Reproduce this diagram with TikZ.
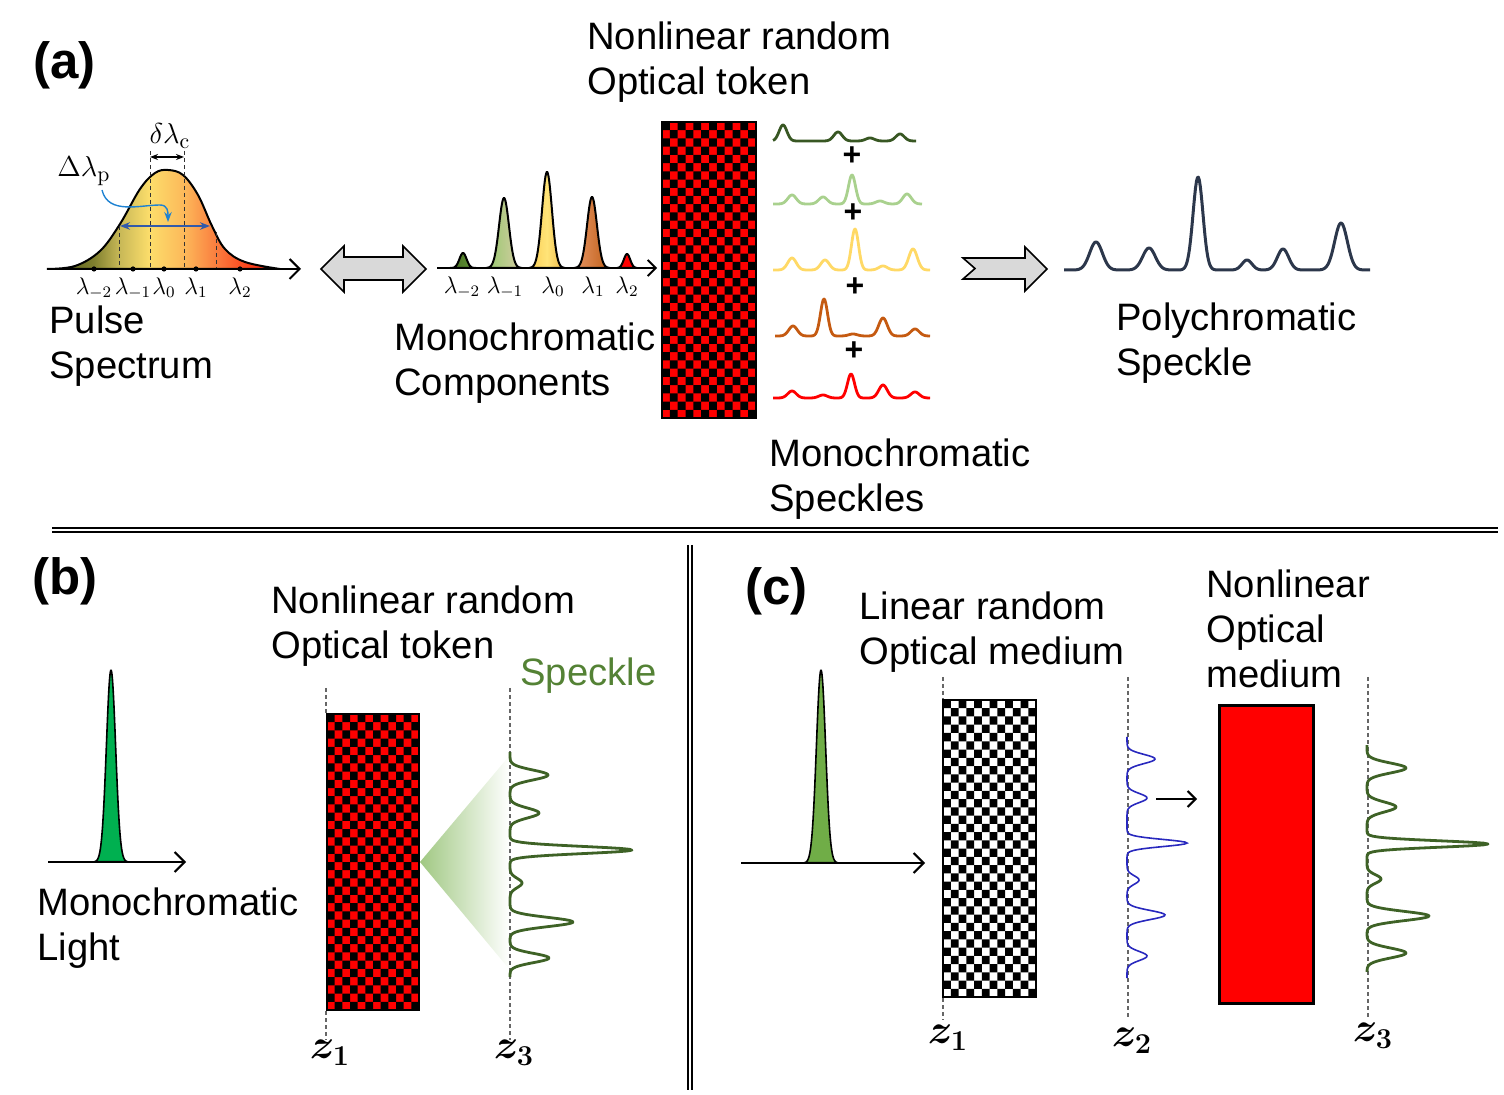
\documentclass[tikz,border=0pt]{standalone}
\usepackage{fontspec}
\newfontfamily\arial{Liberation Sans}
\usetikzlibrary{arrows.meta}
\definecolor{dgreen}{RGB}{56,87,35}
\definecolor{lgreen}{RGB}{169,209,142}
\definecolor{myellow}{RGB}{255,217,102}
\definecolor{morange}{RGB}{197,90,17}
\definecolor{sgreen}{RGB}{84,130,53}
\definecolor{cgreenline}{RGB}{62,98,38}
\definecolor{slate}{RGB}{44,55,75}
\definecolor{bgreen}{RGB}{0,176,80}
\definecolor{cgreen}{RGB}{112,173,71}
\definecolor{zblue}{RGB}{40,40,190}
\definecolor{larrow}{RGB}{217,217,217}
\definecolor{cone}{RGB}{160,200,130}
\definecolor{blueA}{RGB}{30,130,210}
\definecolor{blueB}{RGB}{50,90,170}
\definecolor{pA1}{RGB}{70,110,35}\definecolor{pA2}{RGB}{100,150,55}
\definecolor{pB1}{RGB}{150,200,110}\definecolor{pB2}{RGB}{215,205,165}
\definecolor{pC1}{RGB}{250,205,85}\definecolor{pC2}{RGB}{235,180,70}\definecolor{pC3}{RGB}{255,228,120}
\definecolor{pD1}{RGB}{232,150,100}\definecolor{pD2}{RGB}{190,95,25}
\pgfdeclarehorizontalshading{pulseshade}{100bp}{rgb(0bp)=(0.28,0.32,0.08); rgb(25bp)=(0.28,0.32,0.08); rgb(35bp)=(0.5,0.5,0.18); rgb(40.5bp)=(0.78,0.72,0.34); rgb(47bp)=(0.99,0.87,0.42); rgb(54.5bp)=(0.99,0.72,0.35); rgb(61bp)=(0.98,0.5,0.25); rgb(68.5bp)=(0.98,0.25,0.1); rgb(75bp)=(1,0.1,0.05); rgb(100bp)=(1,0.1,0.05)}
\newcommand\tokenpat[6]{%
  \fill[#5] (#1,#2) rectangle ++(#3,#4);
  \foreach \ii in {0,...,11}{%
    \pgfmathtruncatemacro\off{mod(\ii,2)}%
    \fill[#6] \foreach \jj in {0,...,17}{ ({#1+\ii*#3/12},{#2+(2*\jj+\off)*#4/36}) rectangle ++({#3/12},{#4/36}) };
  }%
  \draw[black, line width=1.3pt] (#1,#2) rectangle ++(#3,#4);
}
\begin{document}
\begin{tikzpicture}[x=0.5pt,y=-0.5pt,
  declare function={g(\xx,\cc,\ww)=exp(-((\xx-\cc)/\ww)*((\xx-\cc)/\ww));},
  txt/.style={font=\arial\fontsize{19.1}{22.5}\selectfont, align=left, inner sep=0, anchor=north west},
  lab/.style={font=\arial\bfseries\fontsize{25.5}{30}\selectfont, inner sep=0, anchor=base west},
  lam/.style={font=\fontsize{12}{14}\selectfont, inner sep=0, anchor=north},
  zlab/.style={font=\fontsize{22}{24}\selectfont\boldmath, inner sep=0, anchor=north},
  dline/.style={gray!80!black, dash pattern=on 2pt off 1.5pt, line width=0.6pt},
  axisline/.style={line width=1.2pt, -{Straight Barb[length=5pt,width=10pt,line width=1pt]}},
  spk/.style={line width=1.4pt, line join=round},
  plus/.style={font=\arial\bfseries\fontsize{16}{16}\selectfont, inner sep=0},
]
\useasboundingbox (0,0) rectangle (1504,1095);

% ---------------- (a) ----------------
\node[lab] (la) at (33,79) {(a)};
\node[txt] (ta) at (587,21) {Nonlinear random\\Optical token};

% pulse spectrum
\shadedraw[shading=pulseshade, draw=black, line width=1pt] plot[smooth, tension=0.6] coordinates {(47,269) (75,266) (100,251) (120,224) (140,189) (155,173) (168,170) (183,175) (198,195) (212,226) (225,249) (245,262) (280,269)} -- cycle;
\draw[dline, black!80, line width=0.5pt] (119,226)--(119,269) (150,151)--(150,269) (184,151)--(184,269) (216,232)--(216,269);
\draw[line width=0.8pt, {Stealth[length=4pt]}-{Stealth[length=4pt]}] (150,157)--(184,157);
\node[font=\fontsize{15.5}{18}\selectfont, inner sep=0] (dlc) at (170,136) {$\delta\lambda_{\mathrm{c}}$};
\node[font=\fontsize{15.5}{18}\selectfont, inner sep=0] (dlp) at (84,171) {$\Delta\lambda_{\mathrm{p}}$};
\draw[blueA, line width=0.7pt, -{Stealth[length=5pt]}] (102,190) .. controls (108,215) and (140,205) .. (160,205) .. controls (168,205) and (168,212) .. (168,222);
\draw[blueB, line width=1pt, {Stealth[length=5pt]}-{Stealth[length=5pt]}] (120,226)--(210,226);
\draw[axisline] (47,269)--(301,269);
\foreach \px/\lb in {94/{-2},133/{-1},164/0,196/1,240/2}{
  \fill (\px,269) circle (2.6);
  \node[lam] at (\px,277) {$\lambda_{\lb}$};
}
\node[txt] (tpulse) at (49,305) {Pulse\\Spectrum};

% double arrow
\filldraw[fill=larrow, draw=black, line width=0.8pt] (321,269)--(344,246)--(344,257)--(403,257)--(403,246)--(426,269)--(403,292)--(403,280)--(344,280)--(344,292)--cycle;

% monochromatic components
\shadedraw[left color=pA1, right color=pA2, line width=1pt] plot[domain=450:476, samples=50] (\x,{268-15*g(\x,463,5)}) -- cycle;
\shadedraw[left color=pB1, right color=pB2, line width=1pt] plot[domain=486:522, samples=60] (\x,{268-70*g(\x,504,7)}) -- cycle;
\shadedraw[left color=pC1, right color=pC2, middle color=pC3, line width=1pt] plot[domain=529:565, samples=60] (\x,{268-96*g(\x,547,7)}) -- cycle;
\shadedraw[left color=pD1, right color=pD2, line width=1pt] plot[domain=574:610, samples=60] (\x,{268-71*g(\x,592,7)}) -- cycle;
\filldraw[fill=red, line width=1pt] plot[domain=617:637, samples=40] (\x,{268-14*g(\x,627,4.5)}) -- cycle;
\draw[line width=1pt, -{Straight Barb[length=4pt,width=8pt,line width=0.9pt]}] (437,268)--(657,268);
\foreach \px/\lb in {462/{-2},505/{-1},553/0,593/1,627/2}{
  \node[lam] at (\px,276) {$\lambda_{\lb}$};
}
\node[txt] (tcomp) at (394,322) {Monochromatic\\Components};

% token
\tokenpat{662}{122}{94}{296}{red}{black}

% monochromatic speckles
\draw[spk, dgreen] plot[domain=773:916, samples=200] (\x,{141-16*g(\x,783,5.5)-9*g(\x,838,6)-3*g(\x,870,6)-7*g(\x,900,6)});
\draw[spk, lgreen] plot[domain=773:922, samples=200] (\x,{204-9*g(\x,792,6)-7*g(\x,823,6)-29*g(\x,852,5)-3*g(\x,880,6)-10*g(\x,907,6)});
\draw[spk, myellow] plot[domain=773:930, samples=200] (\x,{270-12*g(\x,792,6)-10*g(\x,825,6)-41*g(\x,855,5)-4*g(\x,883,6)-21*g(\x,913,6)});
\draw[spk, morange] plot[domain=775:930, samples=200] (\x,{336-10*g(\x,793,6)-37*g(\x,824,5)-2*g(\x,853,6)-18*g(\x,883,6)-7*g(\x,915,6)});
\draw[spk, red] plot[domain=773:930, samples=200] (\x,{398-7*g(\x,792,6)-3*g(\x,823,6)-24*g(\x,851,5)-13*g(\x,883,6)-6*g(\x,915,6)});
\node[plus] (p1) at (852,156) {+};
\node[plus] (p2) at (853,213) {+};
\node[plus] (p3) at (855,287) {+};
\node[plus] (p4) at (854,351) {+};
\node[txt] (tspk) at (769,438) {Monochromatic\\Speckles};

% right arrow
\filldraw[fill=larrow, draw=black, line width=0.8pt] (963,258)--(1025,258)--(1025,247)--(1047,269)--(1025,291)--(1025,279)--(963,279)--(975,268.5)--cycle;

% polychromatic speckle
\draw[spk, slate, line width=1.5pt] plot[domain=1064:1370, samples=320] (\x,{270-28*g(\x,1096,9)-22*g(\x,1149,9)-93*g(\x,1198,7)-10*g(\x,1247,7)-21*g(\x,1283,8)-47*g(\x,1341,9)});
\node[txt] (tpoly) at (1116,302) {Polychromatic\\Speckle};

% separators
\draw[line width=1.3pt] (52,528)--(1498,528);
\draw[line width=1pt] (52,532.5)--(1498,532.5);
\draw[line width=0.9pt] (688,545)--(688,1090) (692,545)--(692,1090);

% ---------------- (b) ----------------
\node[lab] (lbb) at (32,595) {(b)};
\node[txt] (tb) at (271,585) {Nonlinear random\\Optical token};
\node[txt, text=sgreen] (tbs) at (520,657) {Speckle};
\filldraw[fill=bgreen, draw=black, line width=0.8pt] plot[domain=95:127, samples=60] (\x,{862-192*g(\x,111,6.5)}) -- cycle;
\draw[axisline, line width=1.4pt] (48,862)--(186,862);
\node[txt] (tml) at (37,887) {Monochromatic\\Light};
\shade[left color=cone, right color=white] (420,862)--(510,755)--(510,970)--cycle;
\tokenpat{327}{714}{92}{296}{red}{black}
\draw[dline] (326,688)--(326,713) (326,1011)--(326,1040);
\draw[dline] (510,688)--(510,1040);
\draw[spk, cgreenline] plot[domain=752:977, samples=260, variable=\t] ({510+38*g(\t,775,7)+29*g(\t,813,7)+122*g(\t,850,5)+12*g(\t,883,6.5)+63*g(\t,922,6.5)+39*g(\t,958,6.5)},\t);
\node[zlab] (bz1) at (330,1040) {$z_1$};
\node[zlab] (bz3) at (514,1040) {$z_3$};

% ---------------- (c) ----------------
\node[lab] (lc) at (745,605) {(c)};
\node[txt] (tc) at (859,591) {Linear random\\Optical medium};
\node[txt] (tc2) at (1206,569) {Nonlinear\\Optical\\medium};
\filldraw[fill=cgreen, draw=black, line width=0.8pt] plot[domain=805:837, samples=60] (\x,{863-193*g(\x,821,6.5)}) -- cycle;
\draw[axisline, line width=1.4pt] (741,863)--(925,863);
\tokenpat{943}{700}{93}{297}{white}{black}
\draw[dline] (943,677)--(943,699) (943,998)--(943,1020);
\draw[dline] (1128,677)--(1128,1020);
\draw[dline] (1368,677)--(1368,1020);
\draw[line width=0.8pt, zblue] plot[domain=737:978, samples=260, variable=\t] ({1127+28*g(\t,759,6.5)+20*g(\t,798,6.5)+60*g(\t,843,5)+12*g(\t,880,6)+38*g(\t,915,6.5)+20*g(\t,956,6.5)},\t);
\coordinate (ca1) at (1156,799);
\coordinate (ca2) at (1197,799);
\draw[line width=1.2pt, -{Straight Barb[length=4pt,width=8pt,line width=1pt]}] (ca1)--(ca2);
\filldraw[fill=red, draw=black, line width=1.5pt] (1219,706) rectangle (1313,1003);
\draw[spk, cgreenline] plot[domain=745:972, samples=260, variable=\t] ({1367+39*g(\t,768,7)+29*g(\t,807,7)+121*g(\t,844,4.5)+14*g(\t,879,6)+62*g(\t,916,6.5)+39*g(\t,953,7)},\t);
\node[zlab] (cz1) at (948,1025) {$z_1$};
\node[zlab] (cz2) at (1132,1028) {$z_2$};
\node[zlab] (cz3) at (1373,1023) {$z_3$};
\end{tikzpicture}
\end{document}
